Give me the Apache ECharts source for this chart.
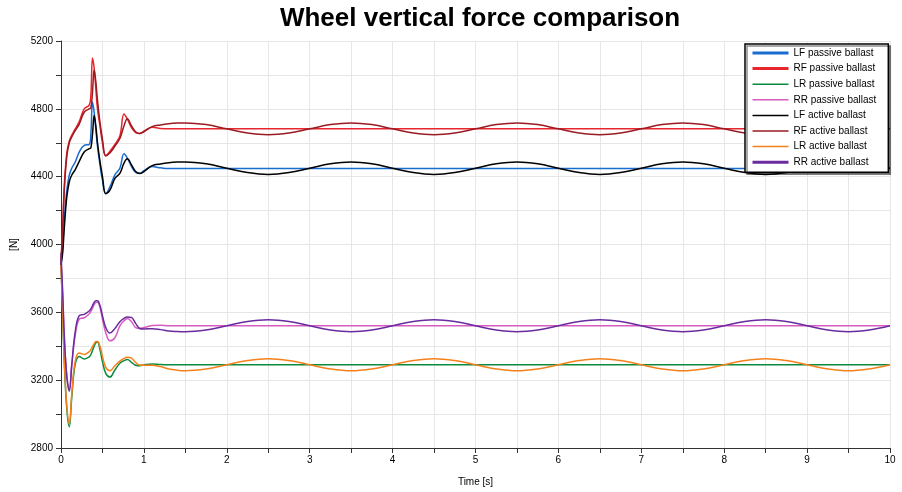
<!DOCTYPE html>
<html>
<head>
<meta charset="utf-8">
<script src="https://cdn.jsdelivr.net/npm/echarts@6/dist/echarts.min.js"></script>
<style>
  html, body { margin: 0; padding: 0; background: #fff; }
  #chart { width: 902px; height: 492px; }
</style>
</head>
<body>
<div id="chart"></div>
<script>
// time axis [s], shared by all series
var time = [0, 0.02, 0.04, 0.07, 0.10, 0.13, 0.17, 0.22, 0.28, 0.34, 0.36, 0.38, 0.40, 0.42, 0.44, 0.47, 0.50, 0.54, 0.59, 0.65, 0.71, 0.76, 0.80, 0.85, 0.90, 0.95, 1.0, 1.1, 1.2, 1.3, 1.4, 1.5,
  1.75, 2, 2.25, 2.5, 2.75, 3, 3.25, 3.5, 3.75, 4, 4.25, 4.5, 4.75, 5, 5.25, 5.5, 5.75, 6, 6.25, 6.5, 6.75, 7, 7.25, 7.5, 7.75, 8, 8.25, 8.5, 8.75, 9, 9.25, 9.5, 9.75, 10];

// wheel forces [N]
var lfPassive = [3880, 3980, 4150, 4320, 4410, 4450, 4485, 4545, 4585, 4590, 4650, 4840, 4780, 4680, 4580, 4470, 4380, 4300, 4340, 4410, 4450, 4535, 4510, 4460, 4425, 4420, 4435, 4460, 4452, 4448, 4448, 4448,
  4448, 4448, 4448, 4448, 4448, 4448, 4448, 4448, 4448, 4448, 4448, 4448, 4448, 4448, 4448, 4448, 4448, 4448, 4448, 4448, 4448, 4448, 4448, 4448, 4448, 4448, 4448, 4448, 4448, 4448, 4448, 4448, 4448, 4448];
var rfPassive = [3900, 4100, 4350, 4540, 4610, 4645, 4680, 4725, 4800, 4822, 4880, 5100, 5040, 4920, 4800, 4700, 4600, 4522, 4550, 4590, 4640, 4770, 4740, 4690, 4660, 4655, 4668, 4692, 4684, 4682, 4682, 4682,
  4682, 4682, 4682, 4682, 4682, 4682, 4682, 4682, 4682, 4682, 4682, 4682, 4682, 4682, 4682, 4682, 4682, 4682, 4682, 4682, 4682, 4682, 4682, 4682, 4682, 4682, 4682, 4682, 4682, 4682, 4682, 4682, 4682, 4682];
var lrPassive = [3880, 3600, 3300, 3030, 2925, 3100, 3290, 3340, 3325, 3338, 3350, 3375, 3400, 3420, 3425, 3380, 3310, 3240, 3218, 3260, 3300, 3315, 3322, 3305, 3288, 3285, 3290, 3295, 3292, 3291, 3291, 3291,
  3291, 3291, 3291, 3291, 3291, 3291, 3291, 3291, 3291, 3291, 3291, 3291, 3291, 3291, 3291, 3291, 3291, 3291, 3291, 3291, 3291, 3291, 3291, 3291, 3291, 3291, 3291, 3291, 3291, 3291, 3291, 3291, 3291, 3291];
var rrPassive = [3900, 3700, 3450, 3230, 3150, 3290, 3460, 3560, 3568, 3590, 3605, 3625, 3645, 3658, 3660, 3630, 3560, 3480, 3432, 3450, 3520, 3550, 3563, 3545, 3510, 3505, 3510, 3522, 3524, 3521, 3521, 3521,
  3521, 3521, 3521, 3521, 3521, 3521, 3521, 3521, 3521, 3521, 3521, 3521, 3521, 3521, 3521, 3521, 3521, 3521, 3521, 3521, 3521, 3521, 3521, 3521, 3521, 3521, 3521, 3521, 3521, 3521, 3521, 3521, 3521, 3521];
var lfActive = [3880, 3950, 4100, 4280, 4370, 4410, 4440, 4490, 4545, 4565, 4570, 4650, 4760, 4700, 4600, 4490, 4400, 4300, 4320, 4390, 4420, 4480, 4505, 4470, 4430, 4418, 4430, 4465, 4475, 4482, 4486, 4487,
  4476, 4450, 4424, 4413, 4424, 4450, 4476, 4487, 4476, 4450, 4424, 4413, 4424, 4450, 4476, 4487, 4476, 4450, 4424, 4413, 4424, 4450, 4476, 4487, 4476, 4450, 4424, 4413, 4424, 4450, 4476, 4487, 4476, 4450];
var rfActive = [3900, 4080, 4320, 4520, 4600, 4635, 4670, 4710, 4780, 4800, 4805, 4900, 5030, 4960, 4850, 4720, 4620, 4525, 4540, 4580, 4625, 4700, 4742, 4700, 4665, 4655, 4665, 4695, 4705, 4712, 4716, 4717,
  4707, 4682, 4657, 4647, 4657, 4682, 4707, 4717, 4707, 4682, 4657, 4647, 4657, 4682, 4707, 4717, 4707, 4682, 4657, 4647, 4657, 4682, 4707, 4717, 4707, 4682, 4657, 4647, 4657, 4682, 4707, 4717, 4707, 4682];
var lrActive = [3880, 3600, 3320, 3050, 2945, 3120, 3310, 3360, 3352, 3368, 3380, 3398, 3415, 3428, 3428, 3400, 3340, 3275, 3255, 3285, 3312, 3328, 3335, 3330, 3305, 3289, 3288, 3288, 3280, 3266, 3259, 3256,
  3266, 3291, 3316, 3327, 3316, 3291, 3266, 3255, 3266, 3291, 3316, 3327, 3316, 3291, 3266, 3255, 3266, 3291, 3316, 3327, 3316, 3291, 3266, 3255, 3266, 3291, 3316, 3327, 3316, 3291, 3266, 3255, 3266, 3291];
var rrActive = [3950, 3720, 3460, 3220, 3135, 3290, 3480, 3580, 3588, 3608, 3620, 3640, 3658, 3668, 3668, 3640, 3580, 3510, 3478, 3505, 3545, 3565, 3572, 3570, 3535, 3505, 3502, 3503, 3498, 3490, 3487, 3486,
  3496, 3521, 3546, 3556, 3546, 3521, 3496, 3486, 3496, 3521, 3546, 3556, 3546, 3521, 3496, 3486, 3496, 3521, 3546, 3556, 3546, 3521, 3496, 3486, 3496, 3521, 3546, 3556, 3546, 3521, 3496, 3486, 3496, 3521];

var names = ['LF passive ballast', 'RF passive ballast', 'LR passive ballast', 'RR passive ballast',
  'LF active ballast', 'RF active ballast', 'LR active ballast', 'RR active ballast'];
var values = [lfPassive, rfPassive, lrPassive, rrPassive, lfActive, rfActive, lrActive, rrActive];
var colors = ['#1a6dd0', '#e8262e', '#0b8a3e', '#d65cc2', '#000000', '#9a1b22', '#f5811c', '#6a2b9e'];
// legend line thickness as drawn in the key
var legendWidths = [3, 3, 1.5, 1.5, 1.5, 1.5, 1.5, 3];

var font = 'Liberation Sans, Arial, sans-serif';
var gridColor = '#e6e6e6';

function pairs(v) {
  return time.map(function (t, i) { return [t, v[i]]; });
}

var chart = echarts.init(document.getElementById('chart'));

var option = {
  animation: false,
  color: colors,
  textStyle: { fontFamily: font },
  title: {
    text: 'Wheel vertical force comparison',
    left: 475, top: 1, textAlign: 'center',
    textStyle: { fontSize: 26, fontWeight: 'bold', color: '#000', fontFamily: font }
  },
  grid: { left: 61, right: 12, top: 41, bottom: 37 },
  legend: {
    show: true,
    orient: 'vertical',
    left: 745, top: 44,
    padding: [4, 12, 5, 6],
    itemWidth: 36, itemHeight: 10, itemGap: 5.6,
    itemStyle: { opacity: 0 },
    backgroundColor: '#fff',
    borderColor: '#000', borderWidth: 1.5,
    shadowColor: 'rgba(0,0,0,0.45)', shadowOffsetX: 2, shadowOffsetY: 2, shadowBlur: 0,
    textStyle: { fontSize: 10, color: '#000', fontFamily: font },
    data: names.map(function (n, i) {
      return { name: n, itemStyle: { opacity: 0 }, lineStyle: { width: legendWidths[i] } };
    })
  },
  xAxis: {
    type: 'value', min: 0, max: 10, interval: 1,
    name: 'Time [s]', nameLocation: 'middle', nameGap: 29,
    nameTextStyle: { fontSize: 10, color: '#000' },
    axisLine: { onZero: false, lineStyle: { color: '#333', width: 1 } },
    axisTick: { show: true, length: 5, lineStyle: { color: '#333' } },
    minorTick: { show: true, splitNumber: 2, length: 5, lineStyle: { color: '#333' } },
    axisLabel: { fontSize: 10, color: '#000', margin: 7 },
    splitLine: { show: true, lineStyle: { color: gridColor } },
    minorSplitLine: { show: true, lineStyle: { color: gridColor } }
  },
  yAxis: {
    type: 'value', min: 2800, max: 5200, interval: 400,
    name: '[N]', nameLocation: 'middle', nameGap: 42,
    nameTextStyle: { fontSize: 10, color: '#000' },
    axisLine: { show: true, lineStyle: { color: '#333', width: 1 } },
    axisTick: { show: true, length: 5, lineStyle: { color: '#333' } },
    minorTick: { show: true, splitNumber: 2, length: 5, lineStyle: { color: '#333' } },
    axisLabel: { fontSize: 10, color: '#000', margin: 8, formatter: function (v) { return String(v); } },
    splitLine: { show: true, lineStyle: { color: gridColor } },
    minorSplitLine: { show: true, lineStyle: { color: gridColor } }
  },
  series: names.map(function (n, i) {
    return {
      name: n,
      type: 'line',
      data: pairs(values[i]),
      showSymbol: false,
      symbol: 'none',
      smooth: 0.4,
      lineStyle: { width: 1.5, color: colors[i] }
    };
  })
};

chart.setOption(option);
</script>
</body>
</html>
